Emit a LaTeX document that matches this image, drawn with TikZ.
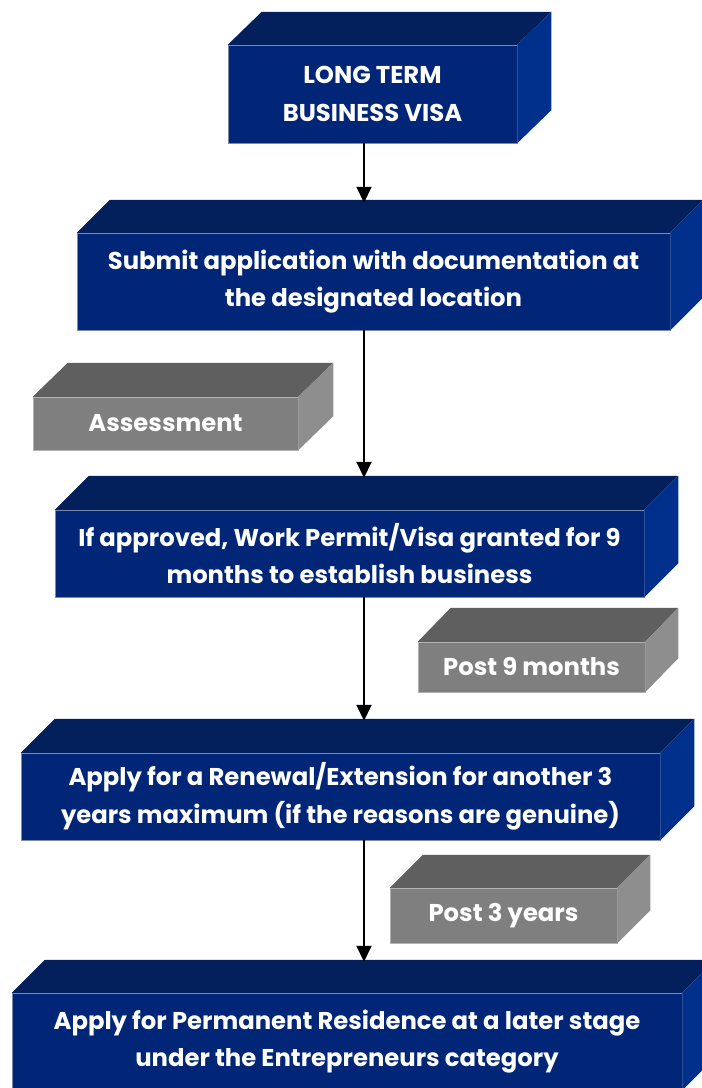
\documentclass[tikz,border=0pt]{standalone}
\usepackage{fontspec}
\setmainfont{Poppins}
\usetikzlibrary{arrows.meta}
\definecolor{bfront}{HTML}{012677}
\definecolor{btop}{HTML}{03205C}
\definecolor{bside}{HTML}{00308C}
\definecolor{gfront}{HTML}{7F7F7F}
\definecolor{gtop}{HTML}{5F5F5F}
\definecolor{gside}{HTML}{8E8E8E}
\definecolor{edgec}{HTML}{7C8AB0}
\newcommand{\cuboid}[5]{%
  \fill[#4] (#1.north west) -- ++(#2,-#3) -- ([shift={(#2,-#3)}]#1.north east) -- (#1.north east) -- cycle;
  \fill[#5] (#1.north east) -- ++(#2,-#3) -- ([shift={(#2,-#3)}]#1.south east) -- (#1.south east) -- cycle;
  \coordinate (#1back) at ([shift={(0,-#3)}]#1.north);
}
\begin{document}
\begin{tikzpicture}[x=1pt,y=-1pt,
  boxtext/.style={inner sep=0pt, align=center, text=white,
    font=\fontsize{24.3}{37.5}\selectfont\bfseries},
  bluebox/.style={boxtext, fill=bfront, draw=edgec, line width=0.5pt},
  graybox/.style={boxtext, fill=gfront, draw=gray!60, line width=0.5pt},
  flowarrow/.style={line width=2pt, -{Triangle[width=15pt,length=16pt]}}]
\clip (0,0) rectangle (702,1088);
\fill[white] (0,0) rectangle (702,1088);

\node[bluebox, minimum width=289pt, minimum height=98pt] (b1) at (372.5,94)
  {LONG TERM\\BUSINESS VISA};
\cuboid{b1}{34}{33}{btop}{bside}

\node[bluebox, minimum width=593pt, minimum height=97pt] (b2) at (373.5,281.5)
  {Submit application with documentation at\\the designated location};
\cuboid{b2}{33}{33}{btop}{bside}

\node[graybox, minimum width=265pt, minimum height=53pt] (g1) at (165.5,423.5)
  {Assessment};
\cuboid{g1}{35}{34}{gtop}{gside}

\node[bluebox, minimum width=589pt, minimum height=87pt] (b3) at (349.5,553.5)
  {If approved, Work Permit/Visa granted for 9\\months to establish business};
\cuboid{b3}{34}{34}{btop}{bside}

\node[graybox, minimum width=227pt, minimum height=50pt] (g2) at (531.5,667)
  {Post 9 months};
\cuboid{g2}{33}{34}{gtop}{gside}

\node[bluebox, minimum width=639pt, minimum height=87pt] (b4) at (340.5,796.5)
  {Apply for a Renewal/Extension for another 3\\years maximum (if the reasons are genuine)};
\cuboid{b4}{34}{34}{btop}{bside}

\node[graybox, minimum width=227pt, minimum height=55pt] (g3) at (503.5,915.5)
  {Post 3 years};
\cuboid{g3}{33}{33}{gtop}{gside}

\node[bluebox, minimum width=670pt, minimum height=97pt] (b5) at (347,1041.5)
  {Apply for Permanent Residence at a later stage\\under the Entrepreneurs category};
\cuboid{b5}{33}{33}{btop}{bside}

\coordinate (ax) at (364,0);
\draw[flowarrow] (b1.south -| ax) -- ([yshift=-3pt]b2back -| ax);
\draw[flowarrow] (b2.south -| ax) -- ([yshift=-2pt]b3back -| ax);
\draw[flowarrow] (b3.south -| ax) -- ([yshift=-2pt]b4back -| ax);
\draw[flowarrow] (b4.south -| ax) -- ([yshift=-2pt]b5back -| ax);
\end{tikzpicture}
\end{document}
